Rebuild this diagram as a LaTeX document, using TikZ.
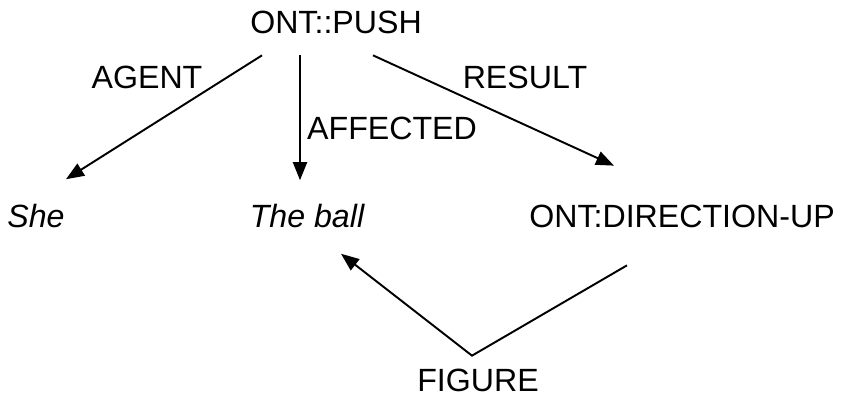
\documentclass[tikz,border=0pt]{standalone}
\usepackage{fontspec}
\setmainfont{Liberation Sans}
\usepackage{tikz}
\usetikzlibrary{arrows.meta,calc}

\begin{document}
\begin{tikzpicture}[x=0.02cm,y=-0.02cm,line width=1.1pt]
            \tikzstyle{concept}=[inner sep=0pt,font=\fontsize{18.3}{20}\selectfont]
            \tikzstyle{role}=[inner sep=0pt,font=\fontsize{18.3}{20}\selectfont]
            \tikzstyle{arc}=[-{Triangle[length=0.36cm,width=0.28cm]}]
            \useasboundingbox (0,0) rectangle (854,404);
                    \node[concept] (push) at (336, 22){ONT::PUSH};
        
                    \node[concept] (she) at (36, 216){\itshape She};
                    \node[concept] (ball) at (307, 216){\itshape The ball};
                    \node[concept] (dir) at (682, 216){ONT:DIRECTION-UP};
                    
                    \node[role] (agent) at (147, 77){AGENT};
                    \node[role] (affected) at (392, 128){AFFECTED};
                    \node[role] (result) at (525, 77){RESULT};
                    \node[role] (figure) at (478, 380){FIGURE};
                    
                \draw[arc] ($(push.south)+(-74,21)$) -- ($(she.north)+(30,-24)$);
                \draw[arc] ($(push.south)+(-36,21)$) -- ($(ball.north)+(-7,-23)$);
                \draw[arc] ($(push.south)+(37,21)$) -- ($(dir.north)+(-68,-38)$);
                \draw[arc] ($(dir.south)+(-55,37)$) -- ($(figure.north)+(-6,-12)$) -- ($(ball.south)+(34,25)$);
        \end{tikzpicture}
\end{document}
